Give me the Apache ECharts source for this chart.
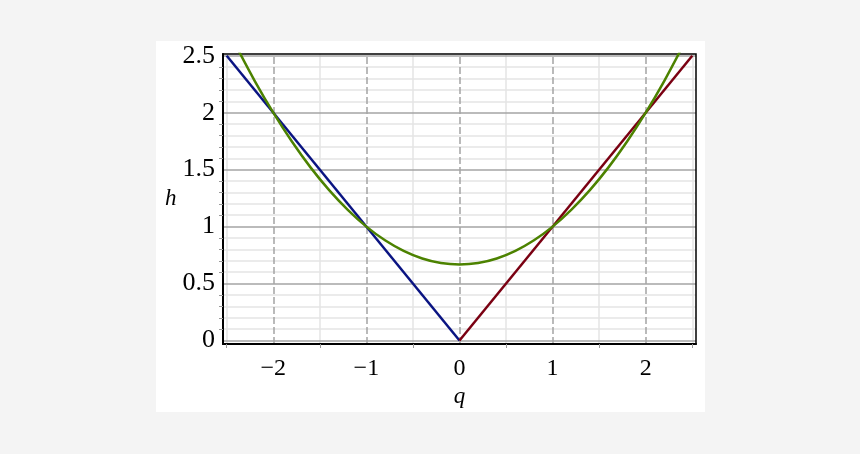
<!DOCTYPE html>
<html><head><meta charset="utf-8">
<script src="https://cdn.jsdelivr.net/npm/echarts@6/dist/echarts.min.js"></script>
<style>html,body{margin:0;padding:0;background:#f4f4f4;}#c{width:860px;height:454px;}</style>
</head><body><div id="c"></div>
<script>
// Data
const blueData = [[-2.5, 2.5], [0, 0]];
const redData = [[0, 0], [2.5, 2.5]];
const greenQ = [-2.4, -2.2, -2.0, -1.8, -1.6, -1.4, -1.2, -1.0, -0.8, -0.6, -0.4, -0.2, 0, 0.2, 0.4, 0.6, 0.8, 1.0, 1.2, 1.4, 1.6, 1.8, 2.0, 2.2, 2.4];
const greenH = [2.587, 2.28, 2.0, 1.747, 1.52, 1.32, 1.147, 1.0, 0.88, 0.787, 0.72, 0.68, 0.667, 0.68, 0.72, 0.787, 0.88, 1.0, 1.147, 1.32, 1.52, 1.747, 2.0, 2.28, 2.587];
const xTickLabels = [-2, -1, 0, 1, 2];
const yTickLabels = [0, 0.5, 1, 1.5, 2, 2.5];
const xMinorGrid = [-2.5, -1.5, -0.5, 0.5, 1.5, 2.5];
const yMinorGrid = [0.1,0.2,0.3,0.4,0.6,0.7,0.8,0.9,1.1,1.2,1.3,1.4,1.6,1.7,1.8,1.9,2.1,2.2,2.3,2.4];
const xMinorTicks = [-2.5, -1.5, -0.5, 0.5, 1.5, 2.5];
const yMinorTicks = yMinorGrid;

const serif = '"Liberation Serif","DejaVu Serif",serif';
const chart = echarts.init(document.getElementById('c'), null, {renderer: 'canvas'});

function ml(arr, axis, style) {
  return arr.map(v => ({[axis]: v, lineStyle: Object.assign({}, style)}));
}
const minorStyle = {color: '#e4e4e4', width: 1.5, type: 'solid'};
const majorV = {color: '#a4a4a4', width: 1.5, type: [7, 3]};
const majorH = {color: '#a4a4a4', width: 1.5, type: 'solid'};

chart.setOption({
  backgroundColor: '#f4f4f4',
  animation: false,
  graphic: [{type: 'rect', z: -10, shape: {x: 156, y: 41, width: 549, height: 371}, style: {fill: '#ffffff'}}],
  grid: {left: 223, right: 164, top: 54, bottom: 110, show: true, borderColor: '#000', borderWidth: 1.5, backgroundColor: 'transparent', z: 3},
  xAxis: {
    type: 'value', min: -2.54, max: 2.54, z: 4,
    name: 'q', nameLocation: 'middle', nameGap: 33,
    nameTextStyle: {fontFamily: serif, fontStyle: 'italic', fontSize: 23, color: '#000'},
    axisLine: {onZero: false, lineStyle: {color: '#000', width: 2}},
    axisTick: {show: true, customValues: xMinorTicks, length: 4, lineStyle: {color: '#999', width: 1}},
    axisLabel: {customValues: xTickLabels, fontFamily: serif, fontSize: 24, color: '#000', margin: 13,
      formatter: v => (v < 0 ? '\u2212' + Math.abs(v) : String(v))},
    splitLine: {show: false}
  },
  yAxis: {
    type: 'value', min: -0.03, max: 2.515, z: 4,
    name: 'h', nameLocation: 'middle', nameGap: 45, nameRotate: 0,
    nameTextStyle: {fontFamily: serif, fontStyle: 'italic', fontSize: 23, color: '#000'},
    axisLine: {onZero: false, lineStyle: {color: '#000', width: 2}},
    axisTick: {show: true, customValues: yMinorTicks, length: 4, lineStyle: {color: '#999', width: 1}},
    axisLabel: {customValues: yTickLabels, fontFamily: serif, fontSize: 26, color: '#000', margin: 8},
    splitLine: {show: false}
  },
  series: [
    {
      type: 'line', data: [], silent: true, z: 1,
      markLine: {
        z: 1,
        silent: true, symbol: 'none', label: {show: false}, animation: false,
        data: [].concat(
          ml(xMinorGrid, 'xAxis', minorStyle),
          ml(yMinorGrid, 'yAxis', minorStyle),
          ml(xTickLabels, 'xAxis', majorV),
          ml(yTickLabels, 'yAxis', majorH)
        )
      }
    },
    {type: 'line', data: blueData, showSymbol: false, z: 6, lineStyle: {color: '#0a1482', width: 2.5, type: 'solid'}},
    {type: 'line', data: redData, showSymbol: false, z: 6, lineStyle: {color: '#7a0012', width: 2.5, type: 'solid'}},
    {type: 'line', data: greenQ.map((q, i) => [q, greenH[i]]), showSymbol: false, smooth: 0.3, clip: true, z: 7,
      lineStyle: {color: '#4c8200', width: 2.5, type: 'solid'}}
  ]
});
</script></body></html>
